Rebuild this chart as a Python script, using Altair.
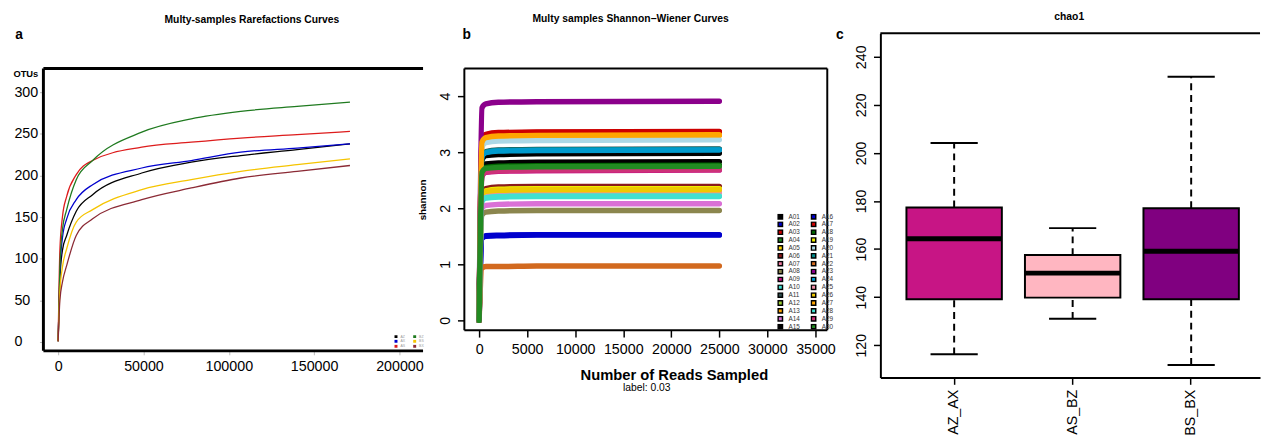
import altair as alt
import pandas as pd

FONT = "Liberation Sans"

# ---------------- Panel a: rarefaction curves ----------------
rare_depth = [0, 1000, 2500, 5000, 10600, 20200, 49000, 78000, 107000, 140000, 171000]
# legend: 2 columns filled top to bottom: black, blue, red | green, yellow, brown
rare_samples = ["AZ", "AX", "AS", "BZ", "BS", "BX"]
rare_colors = ["#000000", "#0000CD", "#DD1C1C", "#1F7A1F", "#F5C400", "#8B2A35"]
rare_AZ = [1, 75, 110, 128, 157, 177, 203, 216, 224, 231, 238]
rare_AX = [1, 85, 125, 148, 171, 189, 209, 218, 228, 233, 238]
rare_AS = [1, 110, 150, 175, 201, 218, 234, 240, 245, 249, 253]
rare_BZ = [1, 90, 135, 159, 195, 218, 252, 268, 277, 283, 288]
rare_BS = [1, 60, 90, 112, 144, 159, 183, 195, 205, 213, 220]
rare_BX = [1, 50, 72, 92, 128, 148, 171, 185, 197, 205, 212]
rare_ticks_x = [0, 50000, 100000, 150000, 200000]
rare_ticks_y = [0, 50, 100, 150, 200, 250, 300]

# ---------------- Panel b: Shannon-Wiener curves ----------------
shannon_reads = [0, 300, 700, 2000, 6000, 25000]
shannon_samples = ["A%02d" % i for i in range(1, 31)]
shannon_colors = [
    "#000000", "#0000CD", "#CD0000", "#228B22", "#FFD700", "#8B1A1A",
    "#EE799F", "#8B864E", "#C71585", "#40E0D0", "#2F4F4F", "#9ACD32",
    "#FFA500", "#DA70D6", "#000000", "#0000CD", "#CD0000", "#006400",
    "#EEEE00", "#ADD8E6", "#008B8B", "#D2691E", "#8B008B", "#009ACD",
    "#F08CA8", "#EEC900", "#FFA500", "#40E0D0", "#CD3278", "#228B22",
]
shannon_values = [
    [0, 2.86, 2.94, 2.96, 2.97, 2.98],  # A01
    [0, 1.46, 1.50, 1.51, 1.52, 1.52],  # A02
    [0, 3.23, 3.31, 3.34, 3.35, 3.36],  # A03
    [0, 2.65, 2.72, 2.74, 2.75, 2.76],  # A04
    [0, 2.24, 2.30, 2.32, 2.33, 2.33],  # A05
    [0, 2.29, 2.35, 2.38, 2.39, 2.39],  # A06
    [0, 2.19, 2.25, 2.27, 2.28, 2.28],  # A07
    [0, 1.88, 1.93, 1.95, 1.96, 1.96],  # A08
    [0, 2.57, 2.64, 2.66, 2.67, 2.68],  # A09
    [0, 2.12, 2.18, 2.20, 2.21, 2.21],  # A10
    [0, 2.94, 3.01, 3.04, 3.05, 3.06],  # A11
    [0, 2.25, 2.30, 2.33, 2.34, 2.34],  # A12
    [0, 3.17, 3.25, 3.28, 3.29, 3.30],  # A13
    [0, 2.00, 2.05, 2.07, 2.08, 2.08],  # A14
    [0, 2.72, 2.79, 2.81, 2.82, 2.83],  # A15
    [0, 1.47, 1.51, 1.52, 1.53, 1.53],  # A16
    [0, 3.24, 3.32, 3.35, 3.36, 3.37],  # A17
    [0, 2.66, 2.73, 2.75, 2.76, 2.77],  # A18
    [0, 2.26, 2.31, 2.34, 2.35, 2.35],  # A19
    [0, 3.09, 3.17, 3.20, 3.21, 3.22],  # A20
    [0, 2.93, 3.00, 3.03, 3.04, 3.05],  # A21
    [0, 0.93, 0.96, 0.96, 0.97, 0.97],  # A22
    [0, 3.79, 3.86, 3.89, 3.90, 3.91],  # A23
    [0, 2.92, 2.99, 3.02, 3.03, 3.04],  # A24
    [0, 2.20, 2.26, 2.28, 2.29, 2.29],  # A25
    [0, 2.24, 2.30, 2.32, 2.33, 2.33],  # A26
    [0, 3.18, 3.26, 3.29, 3.30, 3.31],  # A27
    [0, 2.13, 2.19, 2.21, 2.22, 2.22],  # A28
    [0, 2.58, 2.65, 2.67, 2.68, 2.69],  # A29
    [0, 2.64, 2.71, 2.73, 2.74, 2.75],  # A30
]
shannon_ticks_x = [0, 5000, 10000, 15000, 20000, 25000, 30000, 35000]
shannon_ticks_y = [0, 1, 2, 3, 4]

# ---------------- Panel c: chao1 boxplot ----------------
chao_groups = ["AZ_AX", "AS_BZ", "BS_BX"]
chao_min = [116.2, 131.0, 111.8]
chao_q1 = [139.1, 139.8, 139.1]
chao_median = [164.3, 150.0, 159.1]
chao_q3 = [177.3, 157.5, 177.0]
chao_max = [204.1, 168.7, 231.7]
chao_colors = ["#C71585", "#FFB6C1", "#800080"]
chao_ticks_y = [120, 140, 160, 180, 200, 220, 240]

# ---------------- tables ----------------
rare_series = {"AZ": rare_AZ, "AX": rare_AX, "AS": rare_AS, "BZ": rare_BZ, "BS": rare_BS, "BX": rare_BX}
rare_df = pd.DataFrame(
    [{"sample": s, "depth": d, "otus": v} for s, vals in rare_series.items() for d, v in zip(rare_depth, vals)]
)
rare_leg_df = pd.DataFrame({"sample": rare_samples})

shannon_df = pd.DataFrame(
    [{"sample": s, "reads": r, "shannon": v}
     for s, vals in zip(shannon_samples, shannon_values) for r, v in zip(shannon_reads, vals)]
)
shannon_leg_df = pd.DataFrame({"sample": shannon_samples})

chao_df = pd.DataFrame({"group": chao_groups, "min": chao_min, "q1": chao_q1,
                        "median": chao_median, "q3": chao_q3, "max": chao_max})
one = pd.DataFrame({"k": [0]})

# ---------------- Panel a ----------------
WA, HA = 386, 323
xa = alt.X("depth:Q", scale=alt.Scale(domain=[-8646, 213833], nice=False, zero=False),
           axis=alt.Axis(values=rare_ticks_x, format="d", title=None, domain=False, grid=False,
                         tickSize=4, tickColor="#BBBBBB", labelFontSize=14.5, labelPadding=4.7,
                         labelFlush=False, labelOverlap=False))
ya = alt.Y("otus:Q", scale=alt.Scale(domain=[-10.6, 370.9], nice=False, zero=False),
           axis=alt.Axis(values=rare_ticks_y, title="OTUs", titleAngle=0, titleX=-31, titleY=41,
                         titleAlign="left", titleBaseline="middle", titleFontSize=9.5,
                         titleFontWeight="bold", labelAlign="left", labelPadding=26, tickSize=4,
                         tickColor="#BBBBBB", domain=False, grid=False, labelFontSize=14.5,
                         labelFlush=False, labelOverlap=False))
lines_a = alt.Chart(rare_df).mark_line(strokeWidth=1.3, interpolate="monotone").encode(
    x=xa, y=ya,
    stroke=alt.Stroke("sample:N", scale=alt.Scale(domain=rare_samples, range=rare_colors), legend=None),
)
legend_a = alt.Chart(rare_leg_df).mark_square(opacity=0).encode(
    x=alt.value(0), y=alt.value(0),
    color=alt.Color("sample:N", scale=alt.Scale(domain=rare_samples, range=rare_colors),
                    legend=alt.Legend(title=None, orient="none", legendX=356, legendY=306.5, columns=2,
                                      symbolType="square", symbolSize=9, symbolOpacity=1,
                                      labelFontSize=3.5, labelColor="#999999", labelOffset=2,
                                      columnPadding=7, rowPadding=0, clipHeight=3.5, padding=0)),
)
frame_a = [
    alt.Chart(one).mark_rule(color="black", strokeWidth=3).encode(x=alt.value(0), x2=alt.value(WA), y=alt.value(36)),
    alt.Chart(one).mark_rule(color="black", strokeWidth=3).encode(x=alt.value(0), y=alt.value(36), y2=alt.value(HA)),
    alt.Chart(one).mark_rule(color="black", strokeWidth=3).encode(x=alt.value(0), x2=alt.value(WA), y=alt.value(HA)),
]
letter_a = alt.Chart(one).mark_text(text="a", fontSize=14, fontWeight="bold", font=FONT, align="center",
                                    baseline="alphabetic", color="black").encode(x=alt.value(-24.7), y=alt.value(6.3))
panel_a = alt.layer(lines_a, legend_a, *frame_a, letter_a).properties(
    width=WA, height=HA,
    title=alt.TitleParams("Multy-samples Rarefactions Curves", fontSize=10.5, fontWeight="bold", font=FONT,
                          color="black", anchor="middle", frame="group", offset=3.1, dx=19),
).resolve_scale(color="independent", stroke="independent")

# ---------------- Panel b ----------------
WB, HB = 381, 302
xb = alt.X("reads:Q", scale=alt.Scale(domain=[-1535, 37458], nice=False, zero=False),
           axis=alt.Axis(values=shannon_ticks_x, format="d", title="Number of Reads Sampled",
                         titleFontSize=15, titleFontWeight="bold", titleX=213, titleY=45,
                         titleAlign="center", titleBaseline="middle", tickSize=7, tickColor="black",
                         tickWidth=1.5, domain=False, grid=False, labelFontSize=14.5, labelPadding=5.5,
                         labelFlush=False, labelOverlap=False))
yb = alt.Y("shannon:Q", scale=alt.Scale(domain=[-0.1754, 5.1228], nice=False, zero=False),
           axis=alt.Axis(values=shannon_ticks_y, title="shannon", titleAngle=270, titleX=-43, titleY=169,
                         titleAlign="center", titleBaseline="middle", titleFontSize=10,
                         titleFontWeight="bold", labelAngle=-90, labelAlign="center", labelBaseline="bottom",
                         labelPadding=5, tickSize=7,
                         tickColor="black", tickWidth=1.5, domain=False, grid=False, labelFontSize=14.5,
                         labelFlush=False, labelOverlap=False))
lines_b = alt.Chart(shannon_df).mark_line(strokeWidth=5.5, strokeCap="round", strokeJoin="round",
                                           interpolate="monotone").encode(
    x=xb, y=yb,
    stroke=alt.Stroke("sample:N", scale=alt.Scale(domain=shannon_samples, range=shannon_colors), legend=None),
)
legend_b = alt.Chart(shannon_leg_df).mark_square(opacity=0).encode(
    x=alt.value(0), y=alt.value(0),
    color=alt.Color("sample:N", scale=alt.Scale(domain=shannon_samples, range=shannon_colors),
                    legend=alt.Legend(title=None, orient="none", legendX=318, legendY=183.4, columns=2,
                                      symbolType="square", symbolSize=20, symbolOpacity=1,
                                      symbolStrokeColor="black", symbolStrokeWidth=1.5,
                                      labelFontSize=6.5, labelColor="#333333", labelOffset=5,
                                      columnPadding=9.8, rowPadding=0, clipHeight=5.85, padding=0)),
)
BOX_R, BOX_T = 369, 36
frame_b = [
    alt.Chart(one).mark_rule(color="black", strokeWidth=2).encode(x=alt.value(0), x2=alt.value(BOX_R), y=alt.value(BOX_T)),
    alt.Chart(one).mark_rule(color="black", strokeWidth=2).encode(x=alt.value(0), x2=alt.value(BOX_R), y=alt.value(HB)),
    alt.Chart(one).mark_rule(color="black", strokeWidth=2).encode(x=alt.value(0), y=alt.value(BOX_T), y2=alt.value(HB)),
    alt.Chart(one).mark_rule(color="black", strokeWidth=2).encode(x=alt.value(BOX_R), y=alt.value(BOX_T), y2=alt.value(HB)),
]
letter_b = alt.Chart(one).mark_text(text="b", fontSize=14, fontWeight="bold", font=FONT, align="center",
                                    baseline="alphabetic", color="black").encode(x=alt.value(2.5), y=alt.value(6.3))
label_b = alt.Chart(one).mark_text(text="label: 0.03", fontSize=10.5, font=FONT, align="center",
                                   baseline="middle", color="black").encode(x=alt.value(185.5), y=alt.value(361))
panel_b = alt.layer(lines_b, legend_b, *frame_b, letter_b, label_b).properties(
    width=WB, height=HB,
    title=alt.TitleParams("Multy samples Shannon\u2212Wiener Curves", fontSize=10.5, fontWeight="bold", font=FONT,
                          color="black", anchor="middle", frame="group", offset=4.1, dx=-21.5),
).resolve_scale(color="independent", stroke="independent")

# ---------------- Panel c ----------------
WC, HC = 386, 350
xc = alt.X("group:N", sort=chao_groups,
           scale=alt.Scale(domain=chao_groups, paddingInner=0, paddingOuter=0.1017, align=0.602),
           axis=alt.Axis(title=None, labelAngle=270, labelAlign="right", labelBaseline="middle",
                         labelFontSize=14.5, labelPadding=5, tickSize=7, tickColor="black", tickWidth=1.5,
                         domainColor="black", domainWidth=2, grid=False))
yscale_c = alt.Scale(domain=[106.6, 249.8], nice=False, zero=False)
yaxis_c = alt.Axis(values=chao_ticks_y, title=None, labelAngle=-90, labelAlign="center", labelBaseline="bottom",
                   labelPadding=5, tickSize=7,
                   tickColor="black", tickWidth=1.5, domainColor="black", domainWidth=2, grid=False,
                   labelFontSize=14.5, labelFlush=False, labelOverlap=False)
whisk_hi = alt.Chart(chao_df).mark_rule(color="black", strokeWidth=2, strokeDash=[7, 5]).encode(
    x=xc, y=alt.Y("q3:Q", scale=yscale_c, axis=yaxis_c), y2="max:Q")
whisk_lo = alt.Chart(chao_df).mark_rule(color="black", strokeWidth=2, strokeDash=[7, 5]).encode(
    x=xc, y=alt.Y("min:Q", scale=yscale_c, axis=yaxis_c), y2="q1:Q")
boxes = alt.Chart(chao_df).mark_bar(size=97, stroke="black", strokeWidth=2).encode(
    x=xc, y=alt.Y("q1:Q", scale=yscale_c, axis=yaxis_c), y2="q3:Q",
    color=alt.Color("group:N", scale=alt.Scale(domain=chao_groups, range=chao_colors), legend=None))
medians = alt.Chart(chao_df).mark_tick(size=97, thickness=5, color="black", opacity=1).encode(
    x=xc, y=alt.Y("median:Q", scale=yscale_c, axis=yaxis_c))
caps_hi = alt.Chart(chao_df).mark_tick(size=48, thickness=2, color="black", opacity=1).encode(
    x=xc, y=alt.Y("max:Q", scale=yscale_c, axis=yaxis_c))
caps_lo = alt.Chart(chao_df).mark_tick(size=48, thickness=2, color="black", opacity=1).encode(
    x=xc, y=alt.Y("min:Q", scale=yscale_c, axis=yaxis_c))
top_c = alt.Chart(one).mark_rule(color="black", strokeWidth=2).encode(x=alt.value(0), x2=alt.value(WC), y=alt.value(0))
letter_c = alt.Chart(one).mark_text(text="c", fontSize=14, fontWeight="bold", font=FONT, align="center",
                                    baseline="alphabetic", color="black").encode(x=alt.value(-41.3), y=alt.value(5.7))
panel_c = alt.layer(whisk_hi, whisk_lo, boxes, medians, caps_hi, caps_lo, top_c, letter_c).properties(
    width=WC, height=HC,
    title=alt.TitleParams("chao1", fontSize=10.5, fontWeight="bold", font=FONT, color="black",
                          anchor="middle", frame="group", offset=5.5, dx=-1),
)

chart = alt.hconcat(panel_a, panel_b, panel_c, spacing=42, bounds="flush").resolve_scale(
    color="independent", stroke="independent"
).resolve_legend(color="independent", stroke="independent").properties(
    padding={"left": 5, "top": 0, "right": 0, "bottom": 0}
).configure_view(stroke=None).configure_axis(
    labelFont=FONT, titleFont=FONT, labelColor="black", titleColor="black"
).configure_legend(labelFont=FONT)

chart.save("out.html", embed_options={"renderer": "svg", "actions": False})
